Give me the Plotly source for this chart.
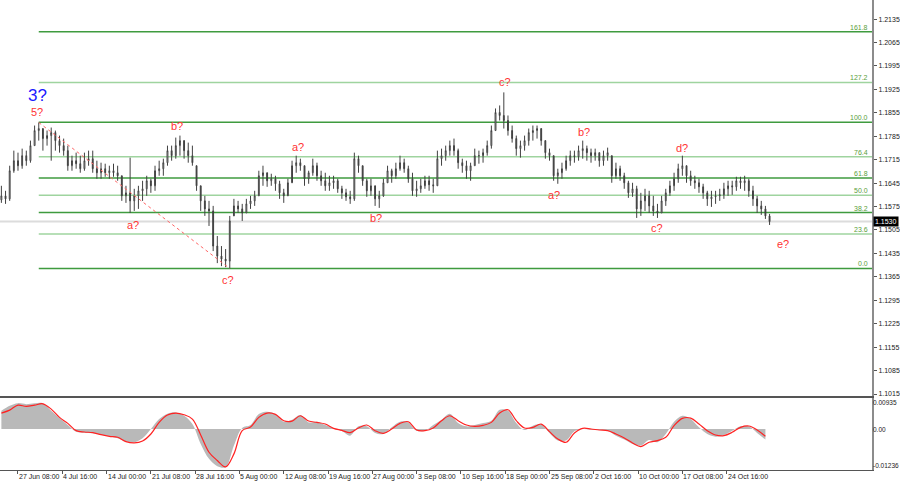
import plotly.graph_objects as go

# ---------------- data (prices x 1e4, one candle = 3 H4 bars) ----------------
high_e4 = [
    11637, 11622, 11697, 11742, 11736, 11748, 11742, 11772, 11817, 11826,
    11808, 11802, 11811, 11802, 11787, 11778, 11757, 11727, 11736, 11727,
    11736, 11742, 11742, 11712, 11706, 11703, 11697, 11703, 11697, 11667,
    11637, 11721, 11628, 11637, 11652, 11667, 11658, 11697, 11712, 11718,
    11757, 11757, 11781, 11787, 11772, 11766, 11757, 11697, 11637, 11607,
    11592, 11577, 11487, 11457, 11448, 11547, 11598, 11592, 11583, 11598,
    11607, 11622, 11682, 11697, 11676, 11673, 11667, 11652, 11628, 11658,
    11712, 11727, 11718, 11697, 11682, 11718, 11706, 11682, 11676, 11667,
    11667, 11658, 11637, 11628, 11622, 11736, 11727, 11697, 11658, 11658,
    11637, 11622, 11658, 11697, 11688, 11706, 11727, 11718, 11697, 11676,
    11652, 11658, 11667, 11667, 11658, 11742, 11748, 11757, 11772, 11778,
    11748, 11718, 11712, 11706, 11748, 11742, 11748, 11772, 11817, 11868,
    11877, 11916, 11847, 11817, 11787, 11772, 11787, 11808, 11817, 11817,
    11808, 11772, 11748, 11727, 11688, 11706, 11727, 11742, 11742, 11757,
    11772, 11757, 11748, 11748, 11736, 11742, 11751, 11727, 11706, 11697,
    11676, 11652, 11646, 11637, 11616, 11628, 11622, 11607, 11583, 11607,
    11628, 11652, 11676, 11703, 11727, 11697, 11682, 11667, 11658, 11643,
    11622, 11622, 11622, 11628, 11646, 11652, 11652, 11664, 11664, 11667,
    11658, 11637, 11607, 11592, 11577, 11553,
]
low_e4 = [
    11586, 11583, 11592, 11676, 11682, 11688, 11697, 11706, 11757, 11772,
    11742, 11757, 11712, 11742, 11736, 11727, 11682, 11682, 11688, 11676,
    11682, 11697, 11676, 11658, 11658, 11664, 11658, 11664, 11652, 11592,
    11586, 11556, 11562, 11568, 11592, 11607, 11616, 11622, 11667, 11667,
    11697, 11712, 11718, 11727, 11718, 11706, 11697, 11622, 11562, 11547,
    11517, 11442, 11406, 11397, 11394, 11390, 11547, 11556, 11532, 11556,
    11568, 11577, 11607, 11637, 11634, 11637, 11622, 11598, 11586, 11607,
    11646, 11676, 11682, 11637, 11643, 11667, 11652, 11637, 11622, 11622,
    11628, 11616, 11598, 11592, 11583, 11592, 11676, 11637, 11604, 11607,
    11577, 11571, 11604, 11646, 11646, 11658, 11682, 11676, 11646, 11607,
    11604, 11616, 11628, 11622, 11616, 11637, 11697, 11712, 11727, 11727,
    11688, 11676, 11658, 11652, 11697, 11703, 11706, 11727, 11748, 11802,
    11832, 11808, 11787, 11766, 11727, 11721, 11742, 11757, 11772, 11778,
    11757, 11718, 11712, 11652, 11643, 11658, 11682, 11697, 11706, 11712,
    11718, 11712, 11706, 11712, 11694, 11697, 11712, 11646, 11658, 11652,
    11628, 11601, 11604, 11541, 11547, 11562, 11556, 11547, 11541, 11556,
    11577, 11607, 11622, 11646, 11667, 11646, 11637, 11628, 11616, 11598,
    11577, 11574, 11583, 11592, 11598, 11607, 11610, 11622, 11628, 11622,
    11604, 11577, 11556, 11550, 11538, 11520,
]
close_e4 = [
    11607, 11598, 11682, 11712, 11697, 11727, 11712, 11757, 11802, 11808,
    11778, 11787, 11796, 11772, 11757, 11742, 11697, 11712, 11703, 11688,
    11712, 11718, 11688, 11676, 11688, 11676, 11682, 11676, 11667, 11607,
    11616, 11592, 11607, 11622, 11628, 11652, 11637, 11682, 11688, 11706,
    11742, 11727, 11757, 11772, 11742, 11727, 11706, 11637, 11592, 11568,
    11562, 11457, 11427, 11418, 11412, 11532, 11577, 11568, 11556, 11583,
    11592, 11607, 11667, 11676, 11652, 11658, 11643, 11616, 11607, 11646,
    11697, 11706, 11697, 11658, 11676, 11697, 11667, 11652, 11637, 11646,
    11652, 11628, 11616, 11604, 11598, 11718, 11697, 11652, 11622, 11637,
    11598, 11607, 11646, 11682, 11667, 11688, 11706, 11688, 11658, 11622,
    11628, 11637, 11652, 11640, 11637, 11718, 11727, 11742, 11757, 11742,
    11706, 11697, 11682, 11697, 11727, 11727, 11736, 11757, 11802, 11856,
    11847, 11832, 11802, 11778, 11748, 11757, 11772, 11796, 11802, 11808,
    11772, 11736, 11727, 11667, 11676, 11688, 11712, 11727, 11724, 11742,
    11748, 11736, 11727, 11736, 11712, 11727, 11736, 11667, 11688, 11667,
    11646, 11616, 11628, 11568, 11592, 11607, 11577, 11562, 11556, 11592,
    11616, 11637, 11658, 11688, 11697, 11667, 11652, 11646, 11634, 11616,
    11598, 11604, 11607, 11610, 11628, 11637, 11634, 11652, 11646, 11652,
    11622, 11598, 11577, 11568, 11547, 11530,
]
first_open_e4 = 11595

# MACD histogram and signal (x 1e-4), one value per 2 candles
macd_hist_e4 = [
    55, 70, 78, 75, 78, 78, 55, 33, 12, -8,
    -11, -13, -17, -22, -28, -38, -40, -28, 0, 30,
    46, 50, 40, 15, -45, -90, -112, -115, -50, 3,
    12, 45, 52, 45, 22, 28, 42, 20, 22, 12,
    2, -6, -20, 8, 8, -12, -15, 5, 22, 20,
    -5, -5, 12, 28, 46, 18, 8, 12, 18, 25,
    58, 55, 18, -3, 10, 14, -12, -35, -35, -7,
    0, -2, -3, -5, -20, -32, -45, -50, -33, -40,
    -15, 22, 40, 30, 5, -15, -23, -18, -5, 8,
    8, -12, -32,
]
macd_signal_e4 = [
    48, 57, 72, 68, 72, 76, 60, 35, 17, -5,
    -9, -11, -17, -22, -25, -38, -42, -36, -15, 20,
    42, 48, 43, 30, -18, -70, -95, -114, -75, -5,
    6, 35, 48, 44, 25, 24, 40, 24, 20, 15,
    2, -4, -11, 3, 12, -5, -13, 0, 17, 22,
    -3, -5, 3, 25, 40, 25, 12, 8, 11, 20,
    48, 58, 25, 3, 5, 15, -8, -30, -40, -12,
    2, 0, -3, -5, -15, -27, -42, -53, -40, -35,
    -25, 10, 32, 33, 15, -5, -18, -20, -10, 5,
    9, -3, -22,
]

# time axis: H4 bar index, 0 = 27 Jun 08:00
first_bar = -12
bars_per_candle = 3
date_tick_bars = [0, 32, 64, 96, 128, 160, 192, 224, 256, 288, 320, 352, 384, 416, 448, 480, 512]
date_tick_labels = ["27 Jun 08:00", "4 Jul 16:00", "14 Jul 00:00", "21 Jul 08:00", "28 Jul 16:00",
                    "5 Aug 00:00", "12 Aug 08:00", "19 Aug 16:00", "27 Aug 00:00", "3 Sep 08:00",
                    "10 Sep 16:00", "18 Sep 00:00", "25 Sep 08:00", "2 Oct 16:00", "10 Oct 00:00",
                    "17 Oct 08:00", "24 Oct 16:00"]
price_ticks = [1.2135, 1.2065, 1.1995, 1.1925, 1.1855, 1.1785, 1.1715, 1.1645, 1.1575,
               1.1505, 1.1435, 1.1365, 1.1295, 1.1225, 1.1155, 1.1085, 1.1015]
macd_top, macd_bottom = 0.00935, -0.01236

fib_low, fib_high = 1.1390, 1.1827
fib_ratios = [0.0, 0.236, 0.382, 0.5, 0.618, 0.764, 1.0, 1.272, 1.618]
fib_labels = ["0.0", "23.6", "38.2", "50.0", "61.8", "76.4", "100.0", "127.2", "161.8"]

# wave labels: (text, bar, price, colour, size)
wave_labels = [
    ("3?", 14, 1.1907, "#1a1aff", 17),
    ("5?", 14, 1.1856, "#ff3333", 11),
    ("a?", 83, 1.1520, "#ff3333", 11),
    ("b?", 115, 1.1817, "#ff3333", 11),
    ("c?", 152, 1.1355, "#ff3333", 11),
    ("a?", 202, 1.1754, "#ff3333", 11),
    ("b?", 259, 1.1541, "#ff3333", 11),
    ("c?", 352, 1.1946, "#ff3333", 11),
    ("a?", 387, 1.1610, "#ff3333", 11),
    ("b?", 409, 1.1799, "#ff3333", 11),
    ("c?", 462, 1.1511, "#ff3333", 11),
    ("d?", 480, 1.1751, "#ff3333", 11),
    ("e?", 553, 1.1463, "#ff3333", 11),
]
peak_candle, trough_candle = 9, 55

# ---------------- build ----------------
highs = [v / 1e4 for v in high_e4]
lows = [v / 1e4 for v in low_e4]
closes = [v / 1e4 for v in close_e4]
opens = []
prev = first_open_e4 / 1e4
for h, l, c in zip(highs, lows, closes):
    opens.append(min(max(prev, l), h))
    prev = c
cx = [first_bar + bars_per_candle * i for i in range(len(closes))]
mx = [first_bar + 2 * bars_per_candle * k for k in range(len(macd_hist_e4))]
hist = [v / 1e4 for v in macd_hist_e4]
sig = [v / 1e4 for v in macd_signal_e4]

X_RANGE = [-13, 617]
FONT = "Liberation Sans"
fig = go.Figure()

fig.add_trace(go.Candlestick(
    x=cx, open=opens, high=highs, low=lows, close=closes,
    xaxis="x", yaxis="y", whiskerwidth=0,
    increasing=dict(line=dict(color="#404040", width=1), fillcolor="#ffffff"),
    decreasing=dict(line=dict(color="#404040", width=1), fillcolor="#404040"),
    showlegend=False, hoverinfo="skip"))

fig.add_trace(go.Scatter(
    x=mx, y=hist, xaxis="x2", yaxis="y2", mode="lines", line=dict(width=0, shape="spline"),
    fill="tozeroy", fillcolor="#b9b9b9", showlegend=False, hoverinfo="skip"))
fig.add_trace(go.Scatter(
    x=mx, y=sig, xaxis="x2", yaxis="y2", mode="lines",
    line=dict(color="#ff2222", width=1.2, shape="spline"), showlegend=False, hoverinfo="skip"))

shapes = []
# bid line
shapes.append(dict(type="line", xref="x", yref="y", x0=X_RANGE[0], x1=X_RANGE[1],
                   y0=closes[-1], y1=closes[-1], line=dict(color="#dcdcdc", width=2), layer="below"))
annotations = []
for r, lab in zip(fib_ratios, fib_labels):
    lvl = fib_low + r * (fib_high - fib_low)
    dark = lab in ("0.0", "38.2", "61.8", "100.0", "161.8")
    shapes.append(dict(type="line", xref="x", yref="y", x0=cx[peak_candle], x1=X_RANGE[1],
                       y0=lvl, y1=lvl, line=dict(color="#3f9b3f" if dark else "#9fd49f", width=1.5),
                       layer="below"))
    annotations.append(dict(text=lab, xref="paper", x=1, xanchor="right", xshift=-2,
                            yref="y", y=lvl, yanchor="bottom", yshift=-1, showarrow=False,
                            font=dict(family=FONT, size=7, color="#5a9e3a")))
# dashed trend line between 5? top and c? bottom
shapes.append(dict(type="line", xref="x", yref="y", x0=cx[peak_candle], y0=highs[peak_candle],
                   x1=cx[trough_candle], y1=lows[trough_candle],
                   line=dict(color="#ff6666", width=1, dash="dot")))

for txt, b, p, col, sz in wave_labels:
    annotations.append(dict(text=txt, xref="x", yref="y", x=b, y=p, showarrow=False,
                            font=dict(family=FONT, size=sz, color=col)))

for b, lab in zip(date_tick_bars, date_tick_labels):
    annotations.append(dict(text=lab, xref="x2", x=b, xanchor="left", xshift=-1,
                            yref="paper", y=0, yanchor="top", yshift=-1, showarrow=False,
                            font=dict(family=FONT, size=7, color="#222222")))

for val, txt, anc in [(macd_top, "0.00935", "top"), (0.0, "0.00", "middle"), (macd_bottom, "-0.01236", "bottom")]:
    annotations.append(dict(text=txt, xref="paper", x=1, xanchor="left", xshift=0,
                            yref="y2", y=val, yanchor=anc, showarrow=False, borderpad=0,
                            font=dict(family=FONT, size=6.5, color="#222222")))

annotations.append(dict(text=f"{closes[-1]:.4f}", xref="paper", x=1, xanchor="left", xshift=1,
                        yref="y", y=closes[-1], showarrow=False, bgcolor="#000000", borderpad=1,
                        font=dict(family=FONT, size=7, color="#ffffff")))

fig.update_layout(
    width=900, height=485, margin=dict(l=0, r=28, t=0, b=15),
    paper_bgcolor="white", plot_bgcolor="white", boxgap=0.7,
    font=dict(family=FONT, size=7, color="#222222"),
    xaxis=dict(domain=[0, 1], range=X_RANGE, anchor="y", showticklabels=False, showgrid=False,
               zeroline=False, showline=True, linecolor="#555555", linewidth=1,
               rangeslider=dict(visible=False), fixedrange=True),
    xaxis2=dict(domain=[0, 1], range=X_RANGE, anchor="y2", showticklabels=False, showgrid=False,
                zeroline=False, showline=True, mirror=True, linecolor="#555555", linewidth=1,
                ticks="outside", tickvals=date_tick_bars, ticklen=3, tickcolor="#555555"),
    yaxis=dict(domain=[0.1574, 1], range=[1.1009, 1.2192], side="right", anchor="x",
               tickvals=price_ticks, ticktext=[f"{t:.4f}" for t in price_ticks],
               ticks="outside", ticklen=3, tickcolor="#555555", showgrid=False, zeroline=False,
               showline=True, linecolor="#8c8c8c", linewidth=2,
               tickfont=dict(family=FONT, size=7, color="#222222")),
    yaxis2=dict(domain=[0, 0.1532], range=[macd_bottom, macd_top], side="right", anchor="x2",
                showticklabels=False, showgrid=False, zeroline=False,
                showline=True, linecolor="#8c8c8c", linewidth=2),
    shapes=shapes, annotations=annotations,
)

fig.write_html("out.html", config={"displayModeBar": False},
               post_script="document.body.style.margin='0';document.body.style.overflow='hidden';")
